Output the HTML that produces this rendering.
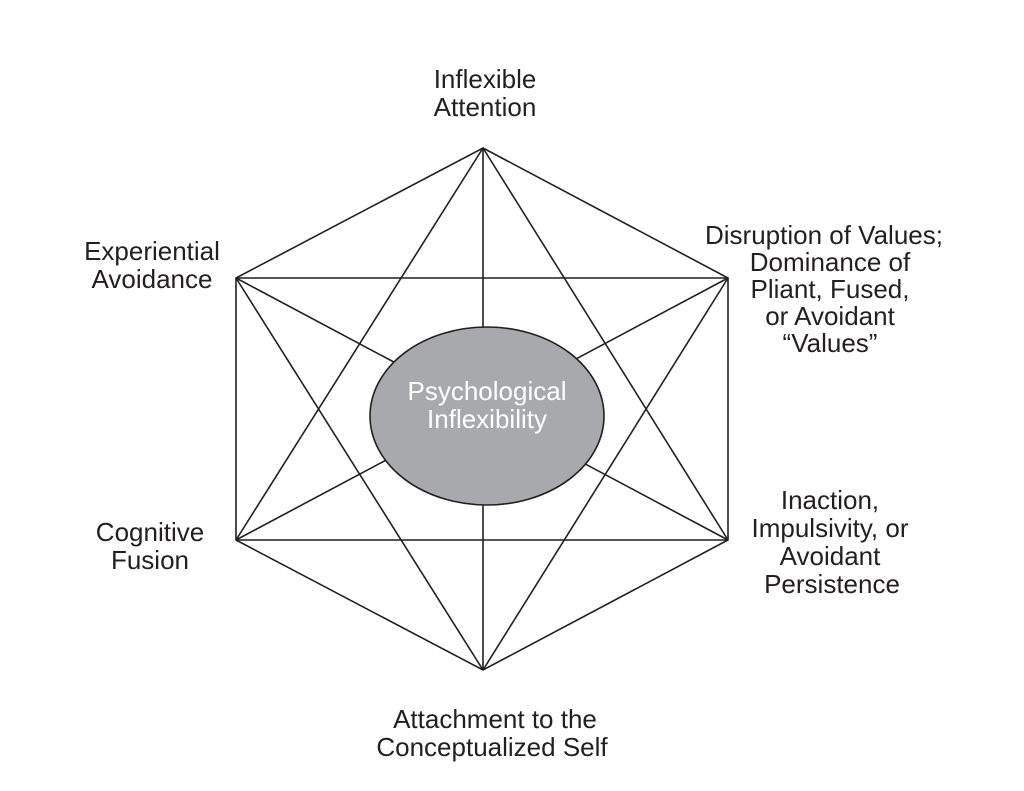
<!DOCTYPE html>
<html><head><style>
html,body{margin:0;padding:0;background:#fff;}
svg{display:block;}
text{font-family:"Liberation Sans",sans-serif;font-size:26px;fill:#231f20;text-anchor:middle;}
</style></head><body>
<svg width="1024" height="791" viewBox="0 0 1024 791">
<g stroke="#231f20" stroke-width="1.6" fill="none">
<polygon points="483,148 728,278 728,540 483,670 236,540 236,278"/>
<line x1="483" y1="148" x2="483" y2="670"/>
<line x1="236" y1="278" x2="728" y2="278"/>
<line x1="236" y1="540" x2="728" y2="540"/>
<line x1="483" y1="148" x2="236" y2="540"/>
<line x1="483" y1="148" x2="728" y2="540"/>
<line x1="483" y1="670" x2="236" y2="278"/>
<line x1="483" y1="670" x2="728" y2="278"/>
<line x1="236" y1="278" x2="728" y2="540"/>
<line x1="728" y1="278" x2="236" y2="540"/>
</g>
<ellipse cx="487" cy="416" rx="117" ry="89" fill="#a7a9ac" stroke="#231f20" stroke-width="1.6"/>
<text x="487" y="400" style="fill:#fff">Psychological</text>
<text x="487" y="428" style="fill:#fff">Inflexibility</text>
<text x="485" y="88">Inflexible</text>
<text x="485" y="116">Attention</text>
<text x="152" y="260">Experiential</text>
<text x="152" y="288">Avoidance</text>
<text x="824" y="244">Disruption of Values;</text>
<text x="830" y="271">Dominance of</text>
<text x="830" y="298">Pliant, Fused,</text>
<text x="830" y="325">or Avoidant</text>
<text x="830" y="352">“Values”</text>
<text x="150" y="541">Cognitive</text>
<text x="150" y="569">Fusion</text>
<text x="830" y="509">Inaction,</text>
<text x="830" y="537">Impulsivity, or</text>
<text x="830" y="565">Avoidant</text>
<text x="832" y="593">Persistence</text>
<text x="495" y="728">Attachment to the</text>
<text x="492" y="756">Conceptualized Self</text>
</svg>
</body></html>
